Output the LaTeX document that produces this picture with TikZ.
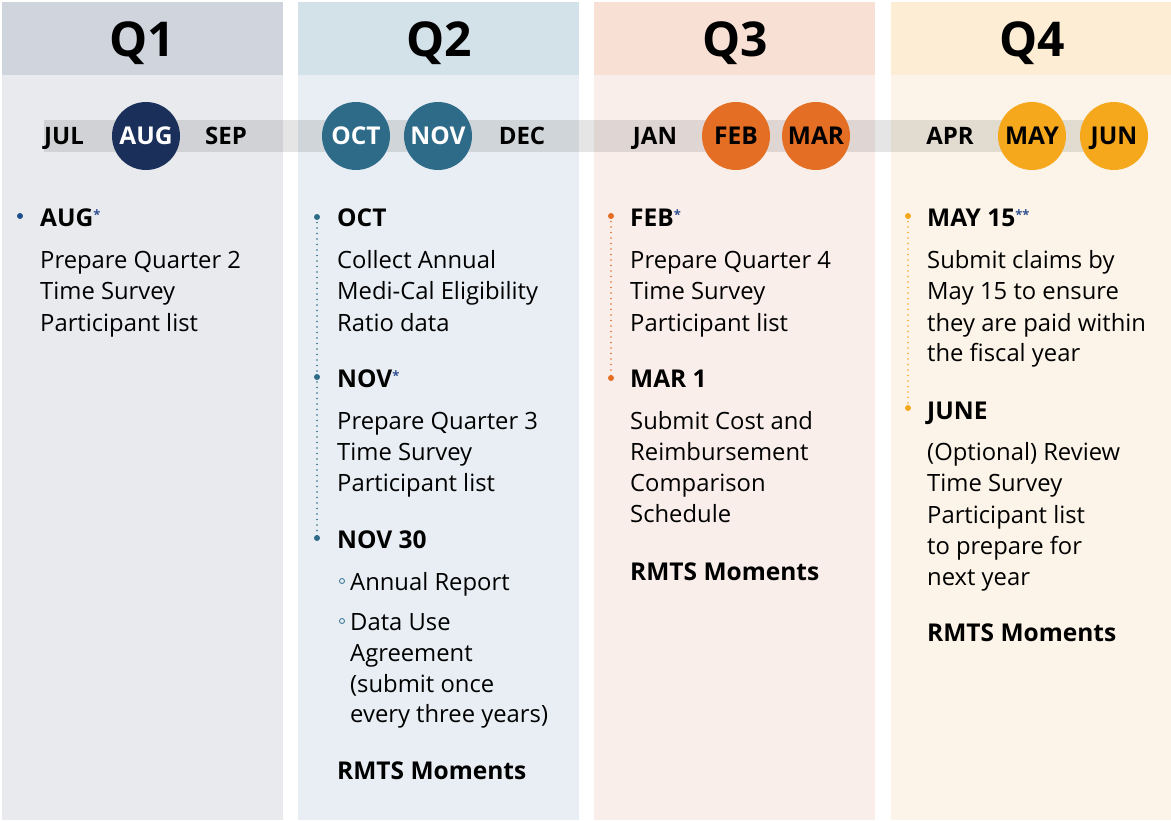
\documentclass[tikz,border=0pt]{standalone}
\usepackage{fontspec}
\setmainfont{Open Sans}
\definecolor{qoneh}{HTML}{D0D5DD}
\definecolor{qoneb}{HTML}{E8EAEE}
\definecolor{qtwoh}{HTML}{D3E1E9}
\definecolor{qtwob}{HTML}{E8EEF3}
\definecolor{qthreeh}{HTML}{F8E0D5}
\definecolor{qthreeb}{HTML}{F9EEEA}
\definecolor{qfourh}{HTML}{FDEDD4}
\definecolor{qfourb}{HTML}{FCF4E8}
\definecolor{navy}{HTML}{1B2F5B}
\definecolor{teal}{HTML}{2E6B89}
\definecolor{orng}{HTML}{E36E24}
\definecolor{gold}{HTML}{F6A81D}
\definecolor{bulone}{HTML}{1F4E8A}
\definecolor{ast}{HTML}{2F4F8F}
\newcommand\astx[1]{{\color{ast}\fontsize{13}{13}\selectfont\raisebox{7pt}{#1}}}
\begin{document}
\begin{tikzpicture}[x=1pt,y=-1pt,
  hdr/.style={anchor=base, font=\fontsize{48}{48}\selectfont\bfseries},
  mon/.style={anchor=base, font=\fontsize{24}{24}\selectfont\bfseries},
  mcirc/.style={circle, minimum size=68pt, inner sep=0pt, text height=17.5pt, text depth=0pt, font=\fontsize{24.5}{24.5}\selectfont\bfseries},
  head/.style={anchor=base west, inner sep=0pt, font=\fontsize{24.5}{24.5}\selectfont\bfseries},
  body/.style={anchor=base west, inner sep=0pt, font=\fontsize{23.8}{23.8}\selectfont},
  dotline/.style={line width=1.8pt, dash pattern=on 0pt off 5.5pt, line cap=round},
]
\useasboundingbox (0,0) rectangle (1171,821);
% columns
\fill[qoneh] (2,2) rectangle (283,75);
\fill[qoneb] (2,75) rectangle (283,820);
\fill[qtwoh] (298,2) rectangle (579,75);
\fill[qtwob] (298,75) rectangle (579,820);
\fill[qthreeh] (594,2) rectangle (875,75);
\fill[qthreeb] (594,75) rectangle (875,820);
\fill[qfourh] (891,2) rectangle (1171,75);
\fill[qfourb] (891,75) rectangle (1171,820);
% headers
\node[hdr] (q1) at (142,57) {Q1};
\node[hdr] (q2) at (439,57) {Q2};
\node[hdr] (q3) at (735,57) {Q3};
\node[hdr] (q4) at (1032,57) {Q4};
% timeline band
\fill[black, opacity=0.1] (44,120) rectangle (1114,152);
% months
\node[mon] (jul) at (64,145) {JUL};
\node[mcirc, fill=navy, text=white] (aug) at (146,136) {AUG};
\node[mon] (sep) at (226,145) {SEP};
\node[mcirc, fill=teal, text=white] (oct) at (356,136) {OCT};
\node[mcirc, fill=teal, text=white] (nov) at (438,136) {NOV};
\node[mon] (dec) at (522,145) {DEC};
\node[mon] (jan) at (655,145) {JAN};
\node[mcirc, fill=orng] (feb) at (736,136) {FEB};
\node[mcirc, fill=orng] (mar) at (816,136) {MAR};
\node[mon] (apr) at (950,145) {APR};
\node[mcirc, fill=gold] (may) at (1032,136) {MAY};
\node[mcirc, fill=gold] (jun) at (1114,136) {JUN};
% Q1 content
\fill[bulone] (20,216) circle[radius=3];
\node[head] (h1) at (40,227) {AUG\astx{*}};
\node[body] (a1) at (40,269) {Prepare Quarter 2};
\node[body] (a2) at (40,300) {Time Survey};
\node[body] (a3) at (40,331) {Participant list};
% Q2 content
\draw[teal, dotline] (317,217) -- (317,538);
\fill[teal] (317,217) circle[radius=3];
\fill[teal] (317,377) circle[radius=3];
\fill[teal] (317,538) circle[radius=3];
\node[head] (h2) at (337,227) {OCT};
\node[body] (b1) at (337,269) {Collect Annual};
\node[body] (b2) at (337,300) {Medi-Cal Eligibility};
\node[body] (b3) at (337,331) {Ratio data};
\node[head] (h3) at (337,388) {NOV\astx{*}};
\node[body] (b4) at (337,429) {Prepare Quarter 3};
\node[body] (b5) at (337,460) {Time Survey};
\node[body] (b6) at (337,491) {Participant list};
\node[head] (h4) at (337,548) {NOV 30};
\draw[teal, line width=0.8pt] (342,581) circle[radius=2.5];
\node[body] (b7) at (350,590) {Annual Report};
\draw[teal, line width=0.8pt] (342,621) circle[radius=2.5];
\node[body] (b8) at (350,630) {Data Use};
\node[body] (b9) at (350,661) {Agreement};
\node[body] (b10) at (350,692) {(submit once};
\node[body] (b11) at (350,722) {every three years)};
\node[head] (h5) at (337,779) {RMTS Moments};
% Q3 content
\draw[orng, dotline] (611,216) -- (611,378);
\fill[orng] (611,216) circle[radius=3];
\fill[orng] (611,378) circle[radius=3];
\node[head] (h6) at (630,227) {FEB\astx{*}};
\node[body] (c1) at (630,269) {Prepare Quarter 4};
\node[body] (c2) at (630,300) {Time Survey};
\node[body] (c3) at (630,331) {Participant list};
\node[head] (h7) at (630,388) {MAR 1};
\node[body] (c4) at (630,429) {Submit Cost and};
\node[body] (c5) at (630,460) {Reimbursement};
\node[body] (c6) at (630,491) {Comparison};
\node[body] (c7) at (630,522) {Schedule};
\node[head] (h8) at (630,580) {RMTS Moments};
% Q4 content
\draw[gold, dotline] (908,216) -- (908,408);
\fill[gold] (908,216) circle[radius=3];
\fill[gold] (908,408) circle[radius=3];
\node[head] (h9) at (927,227) {MAY 15\astx{**}};
\node[body] (d1) at (927,269) {Submit claims by};
\node[body] (d2) at (927,300) {May 15 to ensure};
\node[body] (d3) at (927,331) {they are paid within};
\node[body] (d4) at (927,362) {the fiscal year};
\node[head] (h10) at (927,419) {JUNE};
\node[body] (d5) at (927,460) {(Optional) Review};
\node[body] (d6) at (927,491) {Time Survey};
\node[body] (d7) at (927,523) {Participant list};
\node[body] (d8) at (927,554) {to prepare for};
\node[body] (d9) at (927,585) {next year};
\node[head] (h11) at (927,641) {RMTS Moments};
\end{tikzpicture}
\end{document}
